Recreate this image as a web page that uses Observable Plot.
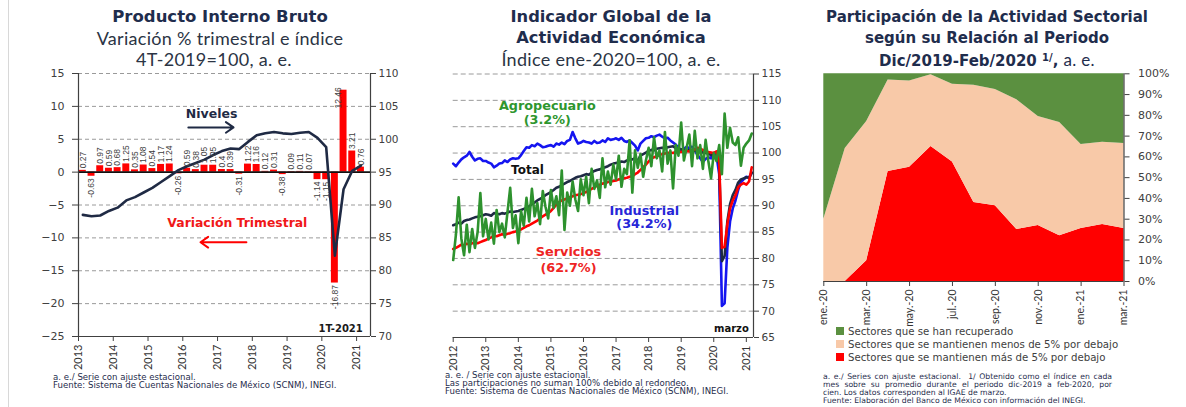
<!DOCTYPE html>
<html><head><meta charset="utf-8">
<script src="https://cdn.jsdelivr.net/npm/d3@7"></script>
<script src="https://cdn.jsdelivr.net/npm/@observablehq/plot@0.6"></script>
<style>
body{margin:0;background:#fff;}
#root{position:relative;width:1186px;height:407px;overflow:hidden;background:#fff;}
.pl{position:absolute;top:0;}
.tl{position:absolute;height:20px;line-height:20px;text-align:center;white-space:nowrap;color:#1f2d4d;}
.b{font-family:"DejaVu Sans";font-weight:bold;}
.r{font-family:Lato;font-weight:normal;color:#2b3444;letter-spacing:0.3px;}
.fn{position:absolute;font-family:"DejaVu Sans";font-size:8.6px;line-height:9px;height:9px;color:#1f2d4d;white-space:nowrap;}
.fn3{position:absolute;font-family:"DejaVu Sans";font-size:7.7px;line-height:8px;height:8px;color:#1f2d4d;white-space:nowrap;left:823px;width:289px;text-align:justify;text-align-last:justify;}
.lg{position:absolute;left:836px;font-family:"DejaVu Sans";font-size:10.2px;line-height:12px;height:12px;color:#404040;white-space:nowrap;}
.lg i{display:inline-block;width:8px;height:8px;margin-right:4px;vertical-align:-0px;}
.sep{position:absolute;left:8px;top:0;width:1px;height:407px;background:#d8d8d8;}
</style></head>
<body><div id="root">
<div class="sep"></div>
<div id="p1" class="pl" style="left:0px"></div>
<div id="p2" class="pl" style="left:390px"></div>
<div id="p3" class="pl" style="left:790px"></div>

<div class="tl b" style="left:20px;top:7px;width:400px;font-size:16.5px">Producto Interno Bruto</div>
<div class="tl r" style="left:20px;top:28px;width:400px;font-size:18px">Variación % trimestral e índice</div>
<div class="tl r" style="left:14px;top:48.5px;width:400px;font-size:18px">4T-2019=100, a. e.</div>

<div class="tl b" style="left:411px;top:7px;width:400px;font-size:16.3px">Indicador Global de la</div>
<div class="tl b" style="left:411px;top:27.5px;width:400px;font-size:16.3px">Actividad Económica</div>
<div class="tl r" style="left:411px;top:48.5px;width:400px;font-size:18px">Índice ene-2020=100, a. e.</div>

<div class="tl b" style="left:787px;top:7px;width:400px;font-size:15px">Participación de la Actividad Sectorial</div>
<div class="tl b" style="left:787px;top:27.5px;width:400px;font-size:15px">según su Relación al Periodo</div>
<div class="tl b" style="left:787px;top:48px;width:400px;font-size:15px">Dic/2019-Feb/2020 <span style="font-size:10px;vertical-align:5px">1/</span>, <span class="r" style="font-size:17px;color:#1f2d4d">a. e.</span></div>

<div class="fn" style="left:53px;top:373px">a. e./ Serie con ajuste estacional.</div>
<div class="fn" style="left:53px;top:381px">Fuente: Sistema de Cuentas Nacionales de México (SCNM), INEGI.</div>

<div class="fn" style="left:445px;top:371px">a. e. / Serie con ajuste estacional.</div>
<div class="fn" style="left:445px;top:379px">Las participaciones no suman 100% debido al redondeo.</div>
<div class="fn" style="left:445px;top:387px">Fuente: Sistema de Cuentas Nacionales de México (SCNM), INEGI.</div>

<div class="lg" style="top:326px"><i style="background:#5b9040"></i>Sectores que se han recuperado</div>
<div class="lg" style="top:339px"><i style="background:#f8c9a8"></i>Sectores que se mantienen menos de 5% por debajo</div>
<div class="lg" style="top:352px"><i style="background:#ff0000"></i>Sectores que se mantienen más de 5% por debajo</div>

<div class="fn3" style="top:373px">a. e./ Series con ajuste estacional.&nbsp; 1/ Obtenido como el índice en cada</div>
<div class="fn3" style="top:381px">mes sobre su promedio durante el periodo dic-2019 a feb-2020, por</div>
<div class="fn3" style="top:389px;text-align-last:left">cien. Los datos corresponden al IGAE de marzo.</div>
<div class="fn3" style="top:397px;text-align-last:left">Fuente: Elaboración del Banco de México con información del INEGI.</div>
</div>
<script>
// ---------- Panel 1: PIB ----------
const pibYears = [2013, 2014, 2015, 2016, 2017, 2018, 2019, 2020, 2021];
const pibVar = [0.27,-0.63,0.97,0.59,0.68,1.25,0.35,1.08,0.54,1.17,1.24,-0.26,0.59,0.38,1.05,1.05,0.4,0.39,-0.31,1.22,1.16,0.12,0.31,-0.38,0.09,0.11,0.07,-1.14,-1.15,-16.87,12.46,3.21,0.76];
const pibNivel = [88.5,88.3,88.4,89.1,89.6,90.7,91.2,91.9,92.6,93.5,94.4,95.3,95.9,96.4,96.9,97.6,98.2,98.6,98.5,99.6,100.6,100.9,101.1,100.9,100.8,101.0,101.1,100.2,98.8,82.3,92.4,95.2,96.0];
const leftTicks = [-25,-20,-15,-10,-5,0,5,10,15];

// ---------- Panel 2: IGAE (monthly, ene-2012 .. mar-2021) ----------
const igaeYears = [2012,2013,2014,2015,2016,2017,2018,2019,2020,2021];
const igaeTotal = [
 86.3,86.5,86.8,86.6,87.1,87.3,87.4,87.6,87.8,87.9,88.0,88.2,
 88.4,88.3,88.1,88.6,88.5,88.4,88.6,88.5,88.7,88.9,88.8,88.9,
 89.0,89.2,89.4,89.6,89.9,90.3,90.6,91.0,91.3,91.6,92.0,92.3,
 92.6,93.0,93.4,93.6,93.9,94.2,94.5,94.7,95.0,95.3,95.5,95.6,
 95.8,96.0,95.9,96.3,96.6,96.8,96.9,97.1,97.3,97.5,97.8,98.0,
 98.1,98.2,98.4,98.3,98.6,98.7,98.8,99.0,98.5,99.5,99.8,100.1,
 100.4,100.6,100.5,100.8,100.9,101.0,100.9,101.1,101.2,101.3,100.9,100.8,
 100.7,100.6,100.4,100.6,100.5,100.4,100.6,100.3,100.1,100.0,99.9,99.6,
 100.0,100.1,98.0,79.5,80.5,87.0,90.3,92.0,93.0,94.4,95.0,95.2,
 95.4,95.3,96.3];
const igaeIndustrial = [
 98.0,97.5,98.2,98.8,99.2,99.5,100.2,99.3,98.6,98.9,99.0,98.5,
 98.5,98.2,98.0,97.3,97.6,98.0,98.1,98.6,98.3,98.8,99.0,98.9,
 99.0,99.6,100.4,101.1,101.0,101.5,101.3,101.8,101.5,101.1,101.2,101.4,
 101.5,101.2,101.8,101.6,102.0,101.7,102.3,102.5,104.0,102.8,101.8,102.0,
 102.3,102.1,102.0,101.8,102.3,101.9,102.0,102.4,102.1,102.8,102.5,102.6,
 102.8,102.5,102.9,102.3,102.1,102.4,101.9,101.4,100.5,101.8,102.3,102.8,
 102.9,103.2,103.0,103.3,103.5,103.1,102.8,102.9,102.4,102.0,101.6,101.0,
 100.5,100.8,101.2,100.9,101.2,100.6,99.6,99.0,98.3,98.9,99.2,99.0,
 100.0,99.5,96.0,71.0,71.5,82.0,87.0,89.5,91.0,93.0,94.5,95.0,
 95.5,95.3,96.3];
const igaeServicios = [
 81.8,82.0,82.3,82.6,82.5,82.8,82.7,82.9,83.0,82.9,83.1,83.3,
 83.5,83.8,84.0,84.3,84.2,84.4,84.6,84.5,84.7,84.8,85.0,85.1,
 85.3,85.5,85.8,86.1,86.3,86.6,86.9,87.2,87.6,88.0,88.3,88.6,
 89.0,89.6,90.2,90.7,91.0,91.2,91.4,91.6,91.8,92.0,92.1,92.2,
 92.4,92.6,92.9,93.2,93.5,93.8,94.0,94.2,94.3,94.5,94.6,94.7,
 94.8,95.0,95.1,95.2,95.3,95.5,95.6,96.0,96.3,96.8,97.3,97.8,
 98.4,99.0,99.2,99.4,99.6,99.8,99.9,100.0,100.1,100.0,100.2,100.3,
 100.2,100.3,100.4,100.3,100.5,100.7,101.0,100.8,100.6,100.3,100.2,100.1,
 100.0,100.3,98.5,82.0,82.2,86.5,89.5,91.0,92.0,93.5,94.0,94.3,
 94.0,94.6,97.3];
const igaeAgro = [
 79.7,84.5,91.6,83.8,80.6,86.4,81.2,85.6,82.0,85.0,92.4,84.2,
 87.5,83.6,86.8,82.8,89.2,85.0,86.6,84.0,88.8,93.4,85.8,88.2,
 82.9,89.0,86.2,91.5,87.0,93.2,88.0,90.5,86.5,92.8,89.8,87.6,
 93.0,89.6,91.8,88.2,96.7,85.4,92.5,90.0,94.6,91.2,89.0,95.0,
 92.0,95.5,90.5,97.0,93.2,94.8,91.5,99.0,93.5,96.5,94.0,97.8,
 95.0,99.5,93.6,97.0,96.0,102.4,92.5,100.5,97.2,99.8,95.5,98.6,
 101.0,97.5,103.0,99.0,100.5,96.5,104.0,98.0,100.5,93.3,101.5,99.5,
 105.8,98.6,101.0,103.5,97.5,104.2,99.0,101.5,97.0,102.5,98.5,95.2,
 100.0,98.5,101.5,96.0,107.5,101.0,104.8,102.0,101.5,103.0,97.6,101.0,
 101.8,102.4,103.7];
const igaeTicks = [65,70,75,80,85,90,95,100,105,110,115];

// ---------- Panel 3: participación sectorial ----------
const meses = ["ene.-20","feb.-20","mar.-20","abr.-20","may.-20","jun.-20","jul.-20","ago.-20","sep.-20","oct.-20","nov.-20","dic.-20","ene.-21","feb.-21","mar.-21"];
const recuperados = [70,36,23,3,3.5,0.5,5,5.5,7.5,12.5,20.5,23.5,34,33,33.5];
const menos5 = [30,64,67,44,41.5,34.5,37.5,56.5,56,62.5,52.5,54.5,40.5,39.5,41];
const mas5 = [0,0,10,53,55,65,57.5,38,36.5,25,27,22,25.5,27.5,25.5];
const pctTicks = [0,10,20,30,40,50,60,70,80,90,100];

const navy = "#1f2a44", red = "#ff0000";
const baseStyle = {background:"transparent", fontFamily:"DejaVu Sans", fontSize:"10.5px", color:"#404040", overflow:"visible"};

// Panel 1
const q = pibVar.map((v,i)=>({t: 2013 + i/4 + 0.125, v, n: pibNivel[i]}));
const lblFont = {fontSize: 8.5, fontFamily: "Liberation Sans", fill: "#404040", rotate: -90};
const p1 = Plot.plot({
  width: 400, height: 407, marginLeft: 78, marginRight: 30, marginTop: 73, marginBottom: 71,
  style: baseStyle,
  x: {domain: [2013, 2021.4]},
  y: {domain: [-25, 15]},
  marks: [
    Plot.ruleY(leftTicks.filter(d => d !== 0 && d !== -25), {stroke: "#9a9a9a", strokeDasharray: "4,3"}),
    Plot.rectY(q, {x1: d => d.t - 0.1, x2: d => d.t + 0.1, y1: 0, y2: "v", fill: red}),
    Plot.ruleY([0], {stroke: "#111", strokeWidth: 1.6}),
    Plot.line(q, {x: "t", y: d => d.n - 95, stroke: navy, strokeWidth: 2.6, strokeLinejoin: "round"}),
    Plot.text(q.filter(d => d.v >= 0 && d.v < 10), {x: "t", y: "v", text: d => String(d.v), textAnchor: "start", dy: -2, ...lblFont}),
    Plot.text(q.filter(d => d.v < 0), {x: "t", y: "v", text: d => String(d.v), textAnchor: "end", dy: 2, ...lblFont}),
    Plot.text(q.filter(d => d.v >= 10), {x: "t", y: "v", text: d => String(d.v), textAnchor: "end", dy: -3, dx: -5, ...lblFont}),
    Plot.text([{t: 2016.83, y: 8.8, s: "Niveles"}], {x: "t", y: "y", text: "s", fill: navy, fontWeight: "bold", fontSize: 12.5, fontFamily: "DejaVu Sans"}),
    Plot.arrow([{a: 2016.16, b: 2017.46, y: 6.8}], {x1: "a", x2: "b", y1: "y", y2: "y", stroke: navy, strokeWidth: 2, headLength: 7, headAngle: 70}),
    Plot.text([{t: 2017.57, y: -7.8, s: "Variación Trimestral"}], {x: "t", y: "y", text: "s", fill: "#f01818", fontWeight: "bold", fontSize: 12.4, fontFamily: "DejaVu Sans"}),
    Plot.arrow([{a: 2017.83, b: 2016.51, y: -10.66}], {x1: "a", x2: "b", y1: "y", y2: "y", stroke: red, strokeWidth: 2, headLength: 7, headAngle: 70}),
    Plot.text([{t: 2020.54, y: -23.8, s: "1T-2021"}], {x: "t", y: "y", text: "s", fill: "#1a1a1a", fontWeight: "bold", fontSize: 10, fontFamily: "DejaVu Sans"}),
    Plot.ruleX([2013], {stroke: "#404040", strokeWidth: 1.2}),
    Plot.ruleX([2021.4], {stroke: "#404040", strokeWidth: 1.2}),
    Plot.ruleY([-25], {stroke: "#404040", strokeWidth: 1.2}),
    Plot.axisY({anchor: "left", ticks: leftTicks, tickSize: 6, tickPadding: 8, label: null, fontSize: 11}),
    Plot.axisY({anchor: "right", ticks: leftTicks, tickFormat: d => String(d + 95), tickSize: 5, tickPadding: 3, label: null, fontSize: 10.5}),
    Plot.axisX({ticks: pibYears, tickFormat: d => String(d), tickRotate: -90, tickSize: 5, tickPadding: 3, label: null, fontFamily: "Lato", fontSize: 11, fill: "#333"})
  ]
});
document.getElementById("p1").append(p1);

// Panel 2
function serie(arr, nombre) { return arr.map((v,i) => ({t: igaeYears[0] + i/12, v, s: nombre})); }
const sTotal = serie(igaeTotal, "Total"), sInd = serie(igaeIndustrial, "Industrial"), sSer = serie(igaeServicios, "Servicios"), sAgr = serie(igaeAgro, "Agropecuario");
const n2 = {fontWeight: "bold", fontFamily: "DejaVu Sans", fontSize: 12.8};
const p2 = Plot.plot({
  width: 396, height: 407, marginLeft: 62.7, marginRight: 33, marginTop: 73.5, marginBottom: 70,
  style: baseStyle,
  x: {domain: [2012, 2021.22]},
  y: {domain: [65, 115]},
  marks: [
    Plot.ruleY(igaeTicks.filter(d => d > 65), {stroke: "#9a9a9a", strokeDasharray: "5,3"}),
    Plot.line(sInd, {x: "t", y: "v", stroke: "#1515f0", strokeWidth: 2.6, strokeLinejoin: "round"}),
    Plot.line(sTotal, {x: "t", y: "v", stroke: navy, strokeWidth: 2.6, strokeLinejoin: "round"}),
    Plot.line(sSer, {x: "t", y: "v", stroke: red, strokeWidth: 2.6, strokeLinejoin: "round"}),
    Plot.line(sAgr, {x: "t", y: "v", stroke: "#2e922e", strokeWidth: 2.6, strokeLinejoin: "round"}),
    Plot.text([{t: 2014.89, y: 109.0, s: "Agropecuario"}, {t: 2014.89, y: 106.2, s: "(3.2%)"}], {x: "t", y: "y", text: "s", fill: "#2e962e", ...n2}),
    Plot.text([{t: 2014.28, y: 96.7, s: "Total"}], {x: "t", y: "y", text: "s", fill: "#111", ...n2, fontSize: 12}),
    Plot.text([{t: 2017.87, y: 89.0, s: "Industrial"}, {t: 2017.87, y: 86.5, s: "(34.2%)"}], {x: "t", y: "y", text: "s", fill: "#2626d8", ...n2}),
    Plot.text([{t: 2015.54, y: 81.25, s: "Servicios"}, {t: 2015.54, y: 78.3, s: "(62.7%)"}], {x: "t", y: "y", text: "s", fill: "#ee2424", ...n2}),
    Plot.text([{t: 2020.54, y: 66.7, s: "marzo"}], {x: "t", y: "y", text: "s", fill: "#111", fontWeight: "bold", fontFamily: "DejaVu Sans", fontSize: 10}),
    Plot.ruleX([2021.22], {stroke: "#404040", strokeWidth: 1.2}),
    Plot.ruleY([65], {stroke: "#404040", strokeWidth: 1.2}),
    Plot.axisY({anchor: "right", ticks: igaeTicks, tickSize: 5, tickPadding: 3, label: null, fontSize: 10.5}),
    Plot.axisX({ticks: igaeYears, tickFormat: d => String(d), tickRotate: -90, tickSize: 5, tickPadding: 3, label: null, fontFamily: "Lato", fontSize: 11, fill: "#333"})
  ]
});
document.getElementById("p2").append(p2);

// Panel 3
const nRec = "Sectores que se han recuperado", nMenos = "Sectores que se mantienen menos de 5% por debajo", nMas = "Sectores que se mantienen más de 5% por debajo";
const largo = [];
meses.forEach((m,i) => {
  largo.push({i, serie: nMas, v: mas5[i]});
  largo.push({i, serie: nMenos, v: menos5[i]});
  largo.push({i, serie: nRec, v: recuperados[i]});
});
const p3 = Plot.plot({
  width: 396, height: 407, marginLeft: 33.3, marginRight: 62.5, marginTop: 73.3, marginBottom: 126,
  style: baseStyle,
  x: {domain: [0, meses.length - 1]},
  y: {domain: [0, 100]},
  color: {domain: [nRec, nMenos, nMas], range: ["#5b9040", "#f8c9a8", "#ff0000"]},
  marks: [
    Plot.areaY(largo, {x: "i", y: "v", fill: "serie", order: [nMas, nMenos, nRec]}),
    Plot.ruleX([meses.length - 1], {stroke: "#404040", strokeWidth: 1.2}),
    Plot.ruleY([0], {stroke: "#404040", strokeWidth: 1.2}),
    Plot.axisY({anchor: "right", ticks: pctTicks, tickFormat: d => d + "%", tickSize: 5, tickPadding: 9, label: null, fontSize: 11}),
    Plot.axisX({ticks: d3.range(0, meses.length, 2), tickFormat: i => meses[i], tickRotate: -90, tickSize: 5, tickPadding: 3, label: null, fontFamily: "Lato", fontSize: 10.5, fill: "#333"})
  ]
});
document.getElementById("p3").append(p3);
</script>
</body></html>
